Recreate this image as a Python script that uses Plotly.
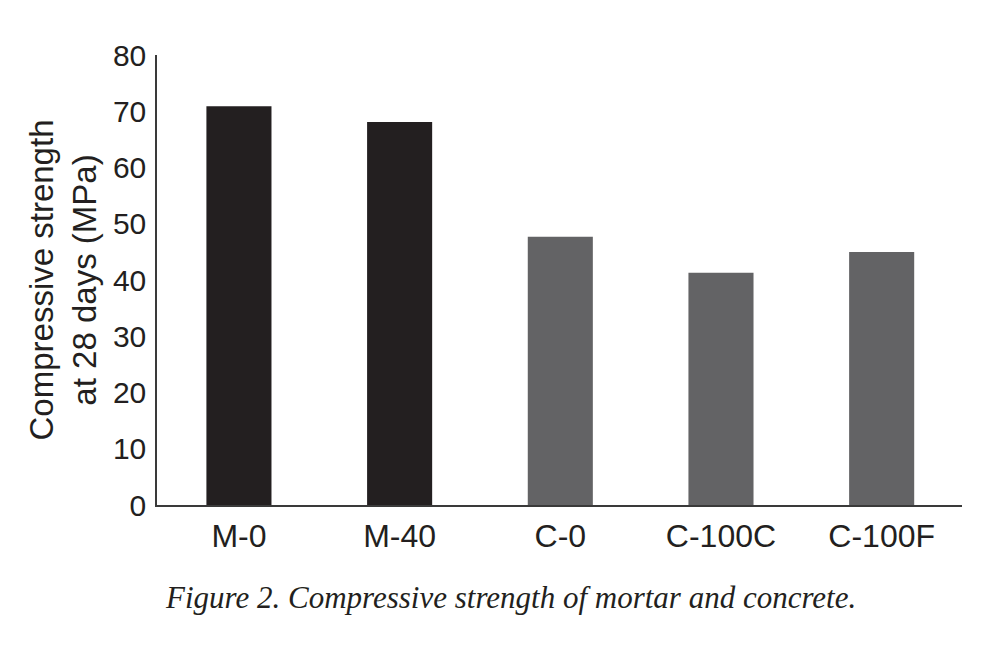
import plotly.graph_objects as go

categories = ["M-0", "M-40", "C-0", "C-100C", "C-100F"]
strength = [70.9, 68.1, 47.7, 41.3, 45.0]
bar_colors = ["#231f20", "#231f20", "#636365", "#636365", "#636365"]
y_ticks = [0, 10, 20, 30, 40, 50, 60, 70, 80]

fig = go.Figure()
fig.add_trace(go.Bar(x=categories, y=strength, marker=dict(color=bar_colors, line=dict(width=0)),
                     width=0.405))

W, H = 994, 652
ml, mr, mt, mb = 157, 32, 55, 146.5
fig.update_layout(
    width=W, height=H,
    margin=dict(l=ml, r=mr, t=mt, b=mb, pad=0),
    plot_bgcolor="white", paper_bgcolor="white",
    showlegend=False,
    font=dict(family="Liberation Sans, Arial, sans-serif", size=30, color="#231f20"),
    xaxis=dict(range=[-0.51, 4.5], showline=True, linecolor="#3a3a3a", linewidth=1.5,
               ticks="", showgrid=False, zeroline=False, ticklabelstandoff=2,
               tickfont=dict(size=32)),
    yaxis=dict(range=[0, 80], tickvals=y_ticks, showline=True, linecolor="#3a3a3a", linewidth=1.5,
               ticks="", showgrid=False, zeroline=False, ticklabelstandoff=3,
               tickfont=dict(size=30),
               title=dict(text="Compressive strength<br>at 28 days (MPa)", standoff=6,
                          font=dict(size=33))),
)
fig.add_annotation(
    text="Figure 2. Compressive strength of mortar and concrete.",
    xref="paper", yref="paper", x=(510 - ml) / (W - ml - mr), y=(H - mb - 598) / (H - mt - mb),
    xanchor="center", yanchor="middle", showarrow=False,
    font=dict(family="Liberation Serif, Times New Roman, serif", size=31, color="#231f20", style="italic"),
)
fig.write_html("out.html")
